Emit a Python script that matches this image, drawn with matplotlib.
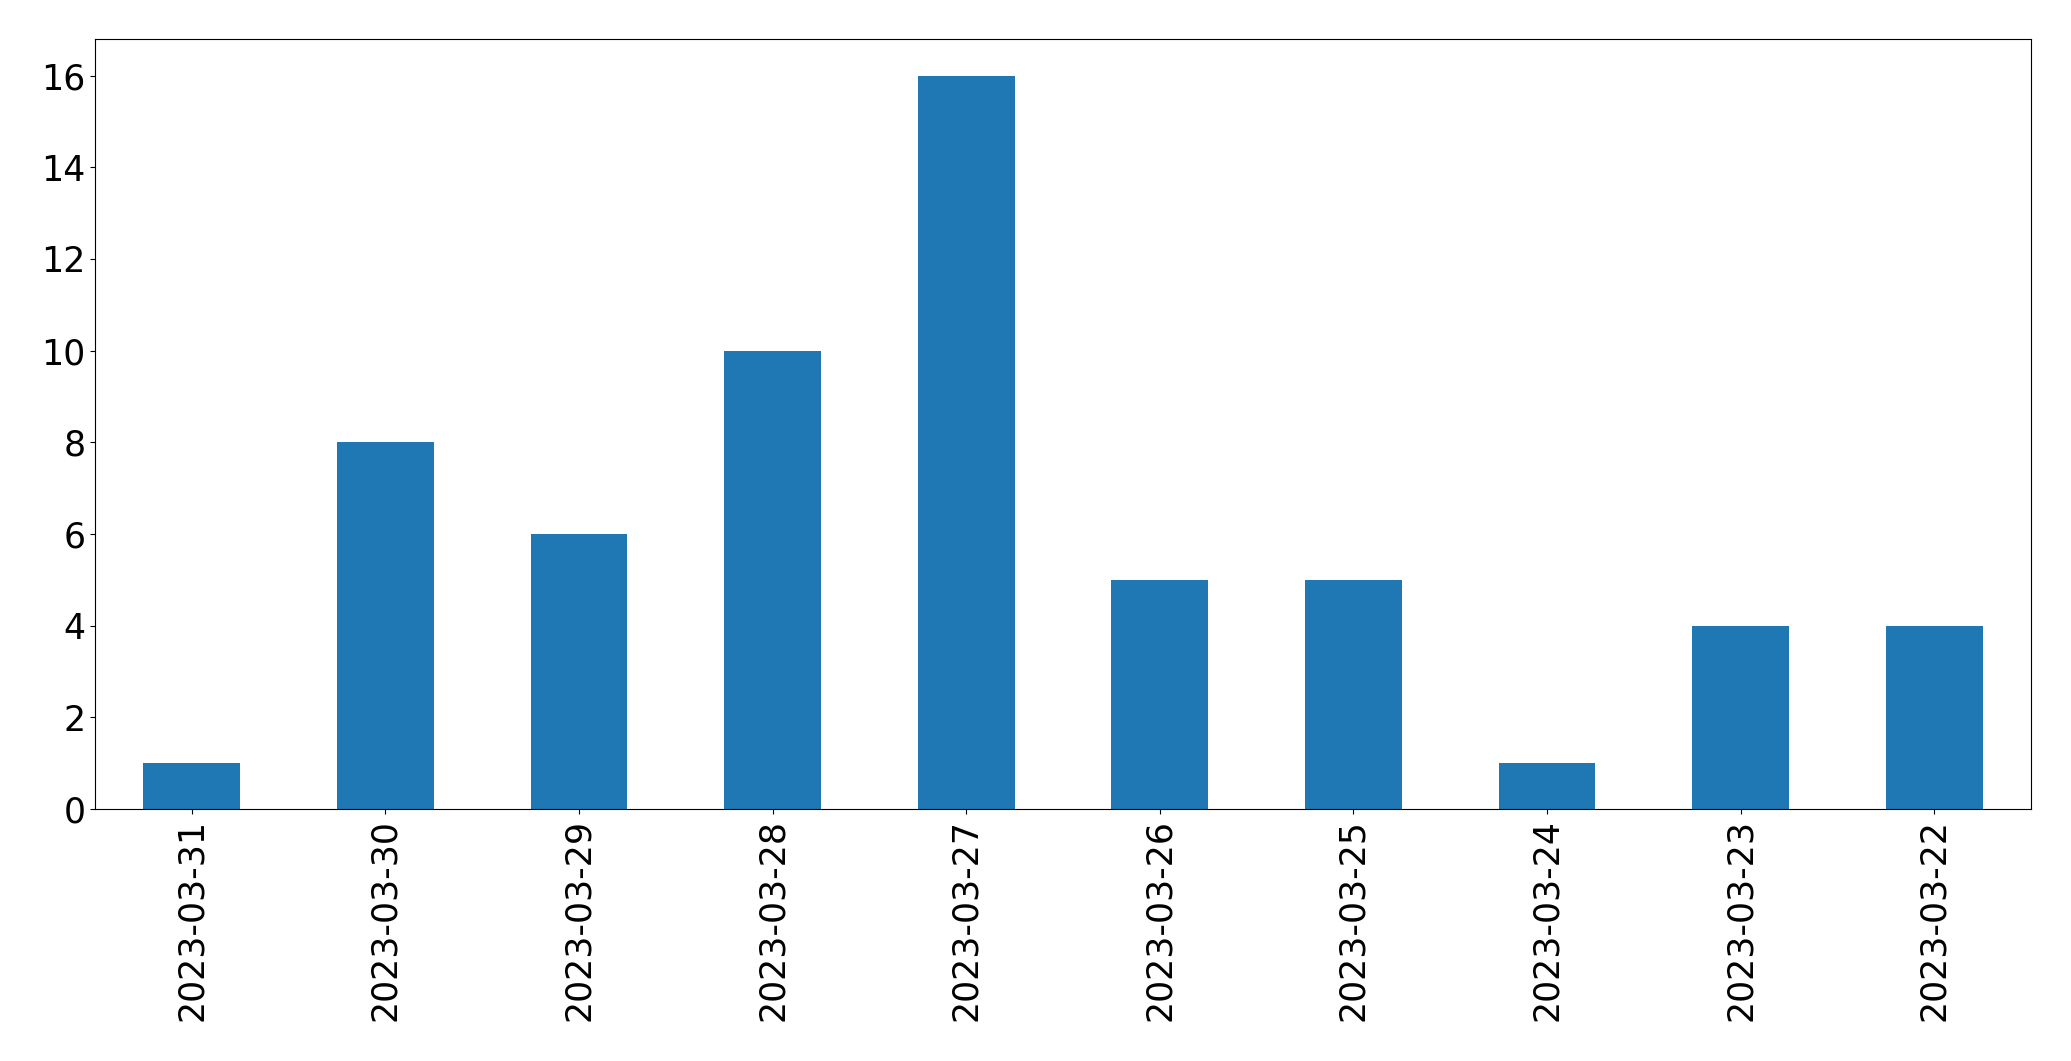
import numpy as np
import matplotlib.pyplot as plt

dates = ['2023-03-31', '2023-03-30', '2023-03-29', '2023-03-28', '2023-03-27',
         '2023-03-26', '2023-03-25', '2023-03-24', '2023-03-23', '2023-03-22']
counts = [1, 8, 6, 10, 16, 5, 5, 1, 4, 4]

fig = plt.figure(figsize=(20.71, 10.61), dpi=100)
ax = fig.add_axes([95 / 2071, 1 - 809 / 1061, (2031 - 95) / 2071, (809 - 39) / 1061])
x = np.arange(len(dates))
ax.bar(x, counts, width=0.5, color='#1f77b4')
ax.set_xlim(-0.5, len(dates) - 0.5)
ax.set_ylim(0, 16.8)
ax.set_xticks(x)
ax.set_xticklabels(dates, rotation=90)
ax.tick_params(labelsize=25)
plt.savefig('out.png', dpi=100)
